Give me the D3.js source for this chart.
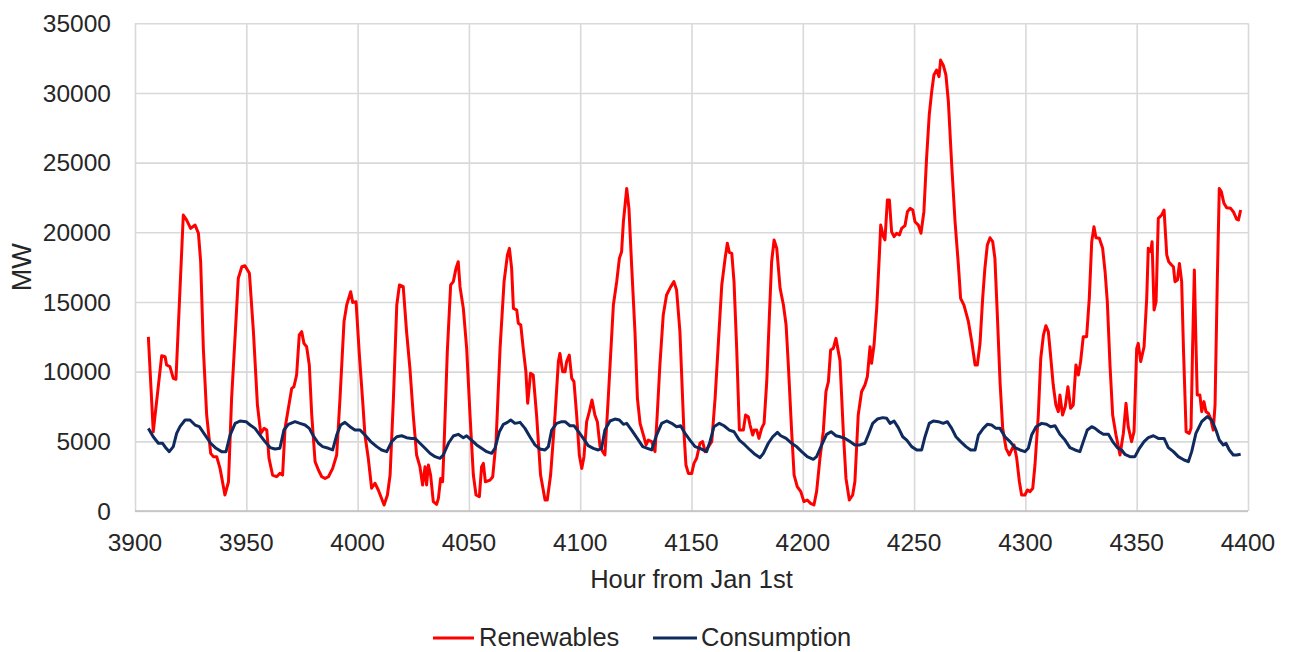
<!DOCTYPE html>
<html><head><meta charset="utf-8">
<script src="https://cdn.jsdelivr.net/npm/d3@7"></script>
<style>
html,body{margin:0;padding:0;background:#fff;}
svg text{font-family:"Liberation Sans",Arial,sans-serif;fill:#262626;}
</style></head>
<body><svg id="c" width="1289" height="652"></svg>
<script>
const renewHours = [3906,3908.2,3912,3913.5,3914.2,3915.7,3917.2,3918.4,3919.9,3921.7,3923.2,3925,3927,3928.5,3929.5,3930.7,3932.2,3934,3935.2,3936.7,3938.2,3940.4,3942,3943.4,3945,3946.4,3948,3949.4,3951.4,3953.2,3955,3956.5,3958,3959.2,3960.2,3961.8,3963.6,
3965.1,3966.3,3967.4,3968.9,3970.4,3971.4,3972.6,3973.8,3974.9,3975.9,3977.1,3978.3,3979.4,3980.9,3982.4,3983.9,3985.4,3986.9,3988.8,3990.6,3992.1,3993.9,3995.1,3996.9,3997.8,3999.3,4000.8,4002.3,4003.3,4004.8,4006.3,4007.8,4009.3,4011.9,4013.4,4014.6,4016.1,4017.6,4018.8,4020.5,4022,4023.5,4025,4026.5,
4028,4029.2,4030.3,4031,4031.8,4032.8,4034,4035.5,4036.3,4037.3,4038.2,4038.8,4040.3,4041.8,4043,4044.2,4045.2,4046,4047.5,4049,4050.5,4052,4053.2,4054.7,4055.7,4056.5,4057.4,4059.5,4060.7,4062.2,4064,4065.8,4067.3,4068.2,4069.2,4070,4071.5,4072.2,4073.3,4074.4,4075.6,4076.4,4077.7,4078.9,4080.4,4082.2,4084.2,4085.2,4086.7,4088.7,4090.2,
4090.9,4092.1,4093.2,4093.9,4095.1,4096.2,4097.2,4098.4,4099.6,4100.7,4101.7,4102.9,4104.1,4105.3,4106.6,4107.7,4108.9,4110.1,4111.1,4112.6,4114.9,4116.4,4117.6,4118.6,4119.4,4120.9,4121.9,4123.1,4124.6,4125.7,4126.9,4128.4,4129.6,4130.6,4132.1,4133.6,4134.6,4135.8,4137.3,4138.8,4140.3,4142.1,4143.3,4144.8,4146.6,4147.5,4148.6,4150.1,4151.1,4152.3,
4153.8,4155,4156.1,4157.6,4159.1,4160.6,4162.1,4163.6,4165.1,4166.1,4167,4168.1,4169.1,4170.3,4171.5,4173.3,4174.3,4175.5,4176.3,4177.5,4178.2,4179.3,4180.3,4181.5,4182.6,4183.8,4185,4186,4187.1,4188.3,4189.8,4191.3,4192.5,4193.5,4195,4196.1,4197.5,4199.1,4200.5,4202,4203.5,4205,4206.2,4207.7,4209.2,4210.4,4211.5,4212.5,4213.7,4214.9,4215.7,
4216.7,4218.2,4219.4,4220.9,4222.4,4223.4,4224.9,4226.4,4227.9,4229,4230.2,4230.9,4232,4233.2,4234.4,4235,4236.2,4236.9,4238,4238.9,4239.9,4241,4242.2,4243.4,4244.4,4245.9,4247,4248.2,4249.4,4250.4,4251.9,4253.1,4254.4,4255.6,4256.8,4257.9,4258.9,4260.1,4261.2,4261.9,4263.1,4264.3,4265.4,4266.9,4268.4,4269.9,4270.9,4272.4,4274.4,4275.9,4277.4,4278.4,
4279.6,4280.8,4281.8,4282.9,4284.1,4285.3,4286.3,4287.4,4288.6,4289.8,4291.3,4292.8,4293.8,4294.9,4296.1,4297.3,4298.3,4299.8,4300.9,4302.1,4303.3,4304.3,4305.8,4306.9,4308.1,4309.2,4310.3,4311.3,4312.5,4313.7,4314.8,4315.5,4316.7,4317.9,4319.1,4320.3,4321.5,4322.7,4323.8,4324.8,4326,4327.5,4328.7,4329.8,4330.8,4331.7,4333.2,4334.7,4335.8,4336.8,4338,4339.2,4340.7,
4342.5,4344,4345.2,4346.2,4347.7,4348.8,4350,4350.7,4351.8,4353.3,4354.5,4355.2,4356.3,4356.9,4357.8,4358.7,4359.7,4361.2,4362.3,4363.5,4364.4,4365,4365.7,4366.5,4367.2,4368.3,4369.2,4370.2,4371,4372.2,4373.6,4374.4,4375.1,4375.9,4376.6,4377.2,4378.4,4379.2,4380.2,4381.1,4382.2,4383.2,4384.4,4385.2,4386.2,4387.1,4388,4389.2,4390.4,4392.2,4393.4,4394.9,4395.7,4396.7];
const renewValues = [12500,5690,11150,11080,10480,10360,9520,9450,14780,21240,20880,20280,20520,19930,17890,11670,6890,4140,3900,3900,3060,1150,2100,8090,12630,16700,17530,17600,17060,12870,7600,5570,5930,5810,3780,2580,2460,
2700,2580,5930,7370,8800,8920,9760,12630,12870,12030,11790,10480,6890,3540,2940,2460,2340,2460,3060,4020,8090,13590,14780,15740,14970,15020,11190,7850,5450,3780,1630,1990,1510,430,1150,2580,8090,14780,16220,16100,12870,10240,6890,4020,
3180,1870,3180,1870,3300,2580,670,480,910,2340,2100,4500,11430,16220,16460,17410,17890,16100,14540,11670,6890,2580,1150,1030,3180,3420,2100,2220,2460,4980,11670,16460,18370,18850,17410,14540,14420,13470,13350,11670,10000,7730,9880,9760,6890,2580,790,790,2580,6890,10720,
11310,10000,10000,10720,11190,9520,9280,6890,4020,3060,3900,6410,7130,7970,6890,6410,4620,4260,4020,8090,14780,16460,18130,18610,20760,23150,21720,17650,12870,8090,6290,5450,4740,5090,4980,4260,6890,10480,14060,15500,15980,16460,15860,12870,5690,3300,2700,2700,3420,3780,
4860,4980,4260,4620,4980,8090,12150,16220,18130,19210,18560,18490,16460,11670,5810,5810,6890,6770,6170,5450,5810,5810,5210,5930,6290,9280,14060,17890,19450,18850,15980,14780,13350,10480,5690,2580,1750,1390,670,790,550,430,1390,3780,5690,8560,9280,11550,11670,12390,11670,
10800,5690,2340,790,1150,2100,6890,8560,9040,9640,11790,10600,11910,14540,18370,20520,19690,19450,22320,22320,20040,19690,19930,19810,20280,20480,21480,21720,21600,20760,20520,19930,21480,25310,28420,30090,31290,31650,31170,32360,32000,31290,29370,24830,20760,17650,15260,14780,13590,12150,10480,10480,
12000,15260,17410,19090,19610,19330,18130,14060,9280,5930,4500,4020,4380,4740,3780,2100,1150,1150,1510,1390,1630,3300,6890,10960,12630,13300,12870,11190,9040,7610,7130,8320,6890,7490,8920,7370,7610,10480,9760,10720,12510,12510,15260,19330,20400,19610,19570,18850,17170,15020,10480,6890,5450,
4020,5570,7730,6050,4980,5690,11670,12030,10720,11790,15260,18850,18610,19330,14420,15020,21000,21240,21600,18370,17890,17770,17650,17530,16460,16580,17770,16460,11670,5690,5570,5930,11670,17290,12150,8320,8320,7130,7850,7130,7010,6650,5810,7610,16460,23150,22920,22080,21770,21720,21480,20950,20880,21600];

const consHours = [3906,3908.2,3910.5,3912.4,3914,3915.4,3917.2,3918.7,3920.2,3922.5,3924.7,3927,3928.9,3931.5,3934,3936.4,3938.9,3940.9,3942.7,3945,3947.2,3949.9,3951.7,3953.9,3955.9,3958.4,3960.7,3962.9,
3965.1,3966.9,3968.9,3971.9,3974.1,3976.4,3978.3,3980.1,3982.4,3984.3,3986.9,3988.8,3990.6,3992.4,3994.3,3996.6,3998.8,4001.1,4003.3,4005.9,4008.6,4010.8,4013.1,4015.3,4017.6,4019.8,4022,4024.3,4025.8,
4028,4030.3,4032.5,4034.8,4037,4038.5,4040.8,4043,4045.2,4047.5,4049,4051.2,4053.5,4055.7,4058,4060.2,4061.7,4063.7,4065.5,4067.3,4068.8,4070.7,4073,4075.2,4077.4,4079.7,4081.9,4084.2,4085.7,4087.2,4089.4,
4091.7,4093.2,4095.4,4097.2,4099.2,4101.4,4103.6,4105.9,4108.1,4109.6,4111.1,4113.4,4115.6,4117.6,4119.4,4120.9,4123.1,4125.4,4128.1,4130.2,4132.1,4134.3,4136.6,4138.8,4141.1,4143.3,4145.1,4147.1,4149.3,4151.6,
4153.8,4156.8,4158.3,4160.1,4162.5,4164.6,4167,4169.1,4171.5,4174,4176.3,4178.5,4180.8,4182.3,4184.5,4186.5,4188.6,4190.1,4192.5,4195,4197.2,4199.5,4202,4204.7,4206.2,4208.5,4210.7,4212.7,4214.9,
4216.7,4219,4221.2,4223.4,4225.7,4227.9,4229.4,4231.4,4233.5,4235.9,4237.7,4239.2,4241,4242.9,4244.9,4246.7,4248.9,4251.2,4253.4,4254.9,4256.8,4258.6,4260.9,4263.1,4264.9,4266.9,4268.8,4270.9,4273.3,4275.4,4277.4,4278.9,
4281.1,4282.9,4284.8,4286.8,4288.6,4290.8,4293.1,4295.3,4297.6,4299.8,4301.3,4302.8,4304.8,4307.3,4309.5,4311.3,4313.3,4315.5,4317.8,4320,4322.3,4324.5,4326,4327.8,4329.8,4331.3,4333.2,4335,4337.3,4339.2,4341.3,
4343.2,4344.7,4347,4349.2,4351.2,4353.3,4355.2,4357.5,4359.7,4362.3,4364.2,4366.5,4368.7,4371.3,4373.2,4374.7,4376.6,4379.2,4381.7,4383.7,4385.6,4387.1,4388.9,4390.1,4391.6,4393.4,4394.9,4396.7];
const consValues = [5930,5330,4860,4860,4500,4260,4620,5570,6050,6530,6530,6170,6050,5450,4860,4500,4260,4260,5450,6290,6460,6410,6170,5930,5500,4980,4550,4450,
4500,5810,6220,6410,6290,6170,5930,5400,4860,4620,4500,4380,5450,6170,6360,6050,5810,5810,5450,4980,4620,4380,4260,4980,5330,5400,5260,5210,5210,
4860,4500,4140,3900,3780,4020,4860,5380,5500,5260,5400,5090,4740,4500,4260,4140,4500,5690,6220,6360,6530,6290,6360,5930,5330,4740,4450,4380,4620,5810,6290,
6410,6410,6120,6120,5690,5210,4690,4500,4380,4500,5810,6460,6600,6530,6220,6290,5810,5260,4620,4500,4380,5450,6290,6460,6290,6050,6120,5570,5090,4620,
4500,4260,4980,6050,6290,6120,5810,5690,5090,4740,4380,4070,3830,4140,4860,5330,5640,5400,5210,4860,4620,4260,3900,3710,3900,4740,5500,5690,5400,
5330,5210,4980,4740,4740,4860,5450,6290,6600,6700,6650,6290,6460,5980,5330,5090,4620,4380,4380,5330,6290,6460,6410,6290,6410,5930,5330,4980,4620,4380,4380,5450,
5930,6220,6170,5930,5930,5330,4980,4550,4380,4260,4500,5450,6050,6290,6220,6050,6120,5500,5090,4550,4380,4260,4980,5810,6050,5930,5690,5500,5500,4980,4550,
4380,4070,3900,3900,4500,4980,5260,5400,5210,5210,4550,4260,3900,3660,3540,4260,5570,6410,6770,6530,5810,5090,4740,4860,4380,4020,4020,4070];

const xTicks = [3900,3950,4000,4050,4100,4150,4200,4250,4300,4350,4400];
const yTicks = [0,5000,10000,15000,20000,25000,30000,35000];
const seriesNames = ["Renewables","Consumption"];
const seriesColors = ["#ff0000","#0f2a5e"];

const svg = d3.select("#c");
const L=135, R=1248, T=23.3, B=511;
const x = d3.scaleLinear().domain([3900,4400]).range([L,R]);
const y = d3.scaleLinear().domain([0,35000]).range([B,T]);

// gridlines
const g = svg.append("g");
g.append("g").attr("transform",`translate(0,${B})`)
  .call(d3.axisBottom(x).tickValues(xTicks).tickSize(-(B-T)).tickFormat(""))
  .call(a=>{a.select(".domain").remove(); a.selectAll("line").attr("stroke","#d9d9d9").attr("stroke-width",1.6);});
g.append("g").attr("transform",`translate(${L},0)`)
  .call(d3.axisLeft(y).tickValues(yTicks).tickSize(-(R-L)).tickFormat(""))
  .call(a=>{a.select(".domain").remove(); a.selectAll("line").attr("stroke","#d9d9d9").attr("stroke-width",1.6);});
// bottom axis line
svg.append("line").attr("x1",L).attr("x2",R).attr("y1",B).attr("y2",B).attr("stroke","#bfbfbf").attr("stroke-width",1.6);

// tick labels
svg.append("g").selectAll("text").data(yTicks).join("text")
  .attr("x",111).attr("y",d=>y(d)).attr("dy","0.35em").attr("text-anchor","end")
  .style("font-size","24.5px").text(d=>d);
svg.append("g").selectAll("text").data(xTicks).join("text")
  .attr("x",d=>x(d)).attr("y",551).attr("text-anchor","middle")
  .style("font-size","24.5px").text(d=>d);

// titles
svg.append("text").attr("x",(L+R)/2).attr("y",588).attr("text-anchor","middle").style("font-size","25.5px").text("Hour from Jan 1st");
svg.append("text").attr("transform",`translate(22,${(T+B)/2}) rotate(-90)`).attr("text-anchor","middle").attr("dy","0.35em").style("font-size","27px").text("MW");

// lines
const line = d3.line().x(d=>x(d[0])).y(d=>y(d[1]));
const renew = renewHours.map((h,i)=>[h,renewValues[i]]);
const cons = consHours.map((h,i)=>[h,consValues[i]]);
svg.append("path").datum(renew).attr("d",line).attr("fill","none").attr("stroke",seriesColors[0]).attr("stroke-width",3).attr("stroke-linejoin","round");
svg.append("path").datum(cons).attr("d",line).attr("fill","none").attr("stroke",seriesColors[1]).attr("stroke-width",3).attr("stroke-linejoin","round");

// legend
const leg = [{x1:433,x2:474,tx:479},{x1:653,x2:697,tx:701}];
leg.forEach((l,i)=>{
  svg.append("line").attr("x1",l.x1).attr("x2",l.x2).attr("y1",638).attr("y2",638).attr("stroke",seriesColors[i]).attr("stroke-width",3);
  svg.append("text").attr("x",l.tx).attr("y",646).style("font-size","25.5px").text(seriesNames[i]);
});
</script></body></html>
